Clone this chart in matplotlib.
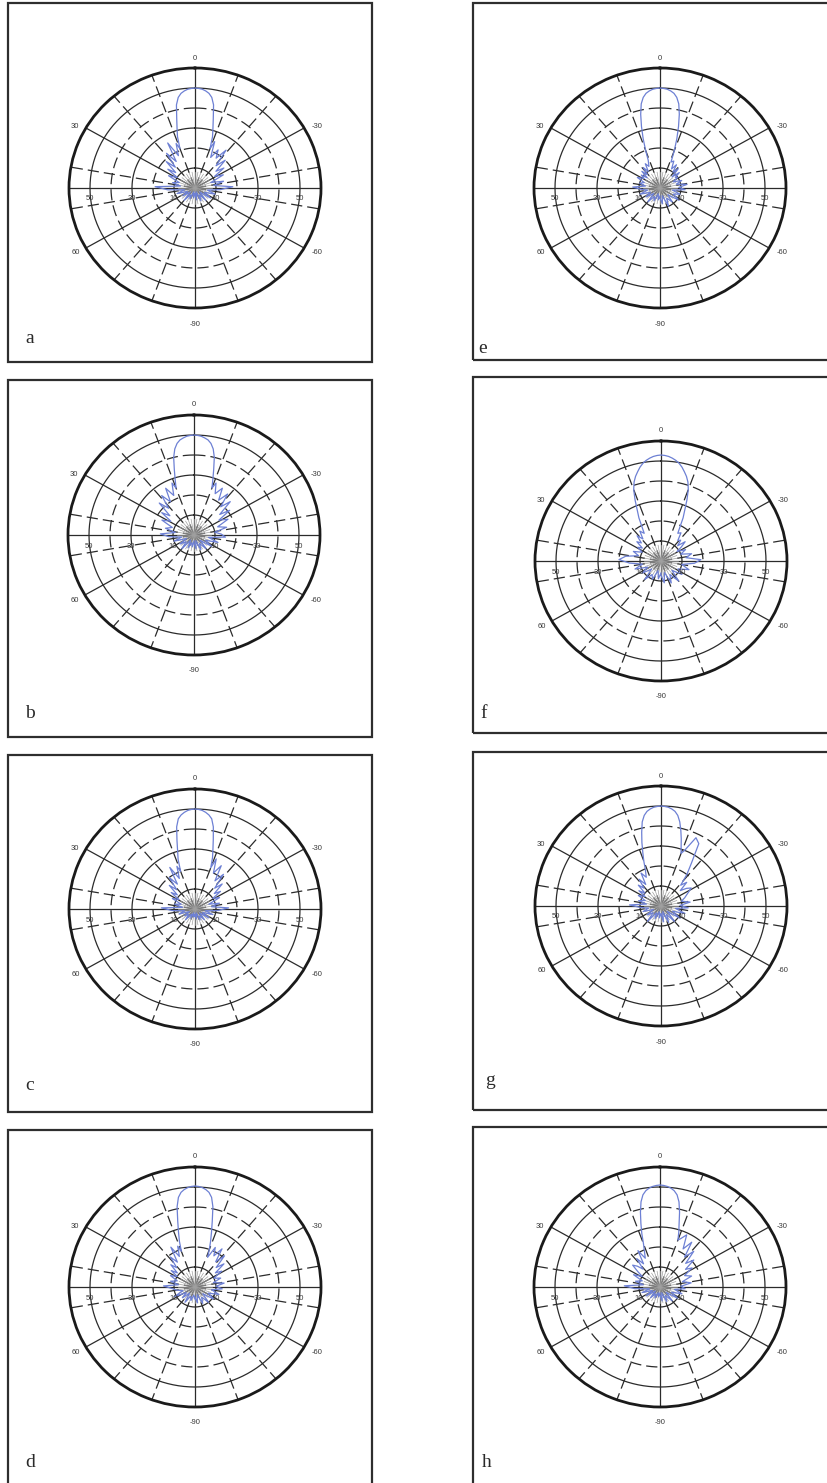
import numpy as np
import matplotlib
matplotlib.use("Agg")
import matplotlib.pyplot as plt
from matplotlib.patches import Rectangle

W, H = 828, 1483

# Angle grid (pattern angle in degrees, -90..90); drawn on the full circle (screen angle = 2 x angle)
ANG = [-90, -86, -82, -78, -74, -70, -66, -62, -58, -54, -50,
       -47, -44, -41, -38, -35, -32, -29,
       -27, -25, -23, -21, -19, -17, -15, -13, -11,
       -10, -9, -8, -7, -6, -5, -4, -3, -2, -1,
       0,
       1, 2, 3, 4, 5, 6, 7, 8, 9, 10,
       11, 13, 15, 17, 19, 21, 23, 25, 27,
       29, 32, 35, 38, 41, 44, 47,
       50, 54, 58, 62, 66, 70, 74, 78, 82, 86, 90]

R_A = [3, 6, 2, 7, 4, 8, 3, 9, 5, 10, 6,
       12, 18, 9, 14, 8, 15, 11,
       17, 13, 20, 15, 24, 18, 22, 17, 25,
       21, 27, 31, 36, 42.5, 46, 47.8, 48.8, 49.5, 49.8,
       50,
       49.8, 49.5, 48.8, 47.8, 46, 42.5, 36, 31, 27, 21,
       24, 18, 26, 16, 22, 14, 19, 12, 16,
       10, 14, 8, 11, 7, 19, 13,
       5, 9, 4, 7, 3, 8, 4, 6, 2, 5, 3]

R_B = [4, 7, 3, 8, 5, 9, 4, 10, 6, 12, 7,
       15, 13, 10, 16, 12, 18, 14,
       21, 16, 24, 19, 26, 21, 27, 23, 28,
       25, 29, 34, 40, 44, 46.5, 48, 48.8, 49.5, 49.8,
       50,
       49.8, 49.5, 48.8, 48, 46.5, 44, 40, 34, 29, 25,
       28, 22, 27, 20, 25, 18, 23, 15, 19,
       13, 17, 11, 14, 9, 16, 12,
       6, 10, 4, 8, 5, 9, 3, 7, 4, 6, 3]

R_C = [3, 5, 2, 6, 4, 7, 3, 8, 4, 9, 5,
       11, 16, 8, 12, 7, 13, 10,
       15, 12, 18, 14, 22, 17, 25, 20, 27,
       22, 27, 31, 36, 42, 45.8, 47.5, 48.6, 49.4, 49.8,
       50,
       49.8, 49.4, 48.6, 47.5, 45.8, 42, 35.5, 30, 26, 20,
       23, 17, 24, 15, 20, 13, 17, 11, 14,
       9, 12, 7, 10, 6, 16, 11,
       5, 8, 3, 6, 4, 7, 3, 5, 2, 4, 3]

R_D = [5, 8, 4, 9, 6, 10, 5, 11, 7, 12, 8,
       13, 10, 14, 9, 13, 10, 15,
       12, 18, 14, 21, 16, 23, 18, 22, 16,
       20, 24, 28.5, 34, 41, 45.5, 47.8, 49, 49.8, 50.3,
       50.5,
       50.3, 49.8, 49, 47.8, 45.5, 41, 34, 28.5, 24, 19,
       22, 17, 23, 15, 19, 13, 16, 11, 14,
       10, 13, 9, 12, 8, 15, 11,
       9, 6, 11, 5, 8, 4, 9, 5, 7, 4, 6]

R_E = [5, 8, 4, 10, 6, 9, 5, 11, 7, 10, 6,
       12, 9, 13, 8, 11, 7, 10,
       9, 12, 8, 13, 10, 14, 11, 15, 14,
       20, 26, 32, 38, 43, 46, 47.8, 48.8, 49.5, 49.8,
       50,
       49.8, 49.5, 48.8, 47.8, 46, 43, 38, 32, 26, 20,
       15, 12, 14, 10, 13, 9, 12, 8, 11,
       9, 12, 8, 10, 7, 13, 9,
       6, 10, 5, 8, 4, 9, 5, 7, 3, 6, 4]

R_F = [7, 11, 6, 12, 8, 13, 7, 12, 9, 14, 10,
       16, 19, 12, 15, 10, 13, 9,
       12, 15, 11, 14, 13, 17, 16, 24, 33,
       38, 41.5, 44, 46, 48, 49.6, 50.8, 51.7, 52.4, 52.8,
       53,
       52.8, 52.4, 51.7, 50.8, 49.6, 48, 46, 44, 41.5, 38,
       33, 24, 16, 18, 14, 17, 13, 15, 11,
       13, 10, 14, 11, 17, 20, 15,
       9, 13, 7, 11, 6, 12, 8, 10, 5, 9, 6]

R_G = [4, 8, 3, 9, 5, 10, 4, 11, 6, 12, 7,
       13, 9, 14, 10, 12, 14, 17,
       15, 12, 17, 14, 20, 26, 36, 38, 30,
       28, 31, 35, 39, 43, 46, 47.8, 48.8, 49.5, 49.8,
       50,
       49.8, 49.5, 48.8, 47.8, 46, 43, 38, 33, 28, 24,
       20, 16, 19, 13, 17, 12, 15, 10, 13,
       9, 12, 8, 11, 7, 15, 10,
       6, 9, 4, 8, 5, 10, 4, 7, 3, 6, 4]

R_H = [4, 7, 3, 8, 5, 9, 4, 10, 6, 11, 7,
       12, 10, 15, 11, 16, 13, 18,
       15, 21, 17, 24, 19, 27, 22, 29, 26,
       25, 29, 33, 38.5, 43.5, 46.8, 48.6, 49.7, 50.4, 50.8,
       51,
       50.8, 50.4, 49.7, 48.6, 46.8, 43.5, 38.5, 33, 28, 23,
       20, 16, 21, 14, 18, 12, 15, 17, 13,
       10, 14, 9, 12, 8, 17, 12,
       5, 9, 4, 8, 3, 7, 4, 6, 3, 5, 3]

LETTERS = ["a", "b", "c", "d", "e", "f", "g", "h"]
SERIES = [R_A, R_B, R_C, R_D, R_E, R_F, R_G, R_H]

# tick labels
ANGLE_LABELS = ["0", "30", "-30", "60", "-60", "-90"]
RADIAL_LABELS = ["10", "30", "50"]

# layout (pixels, top-left origin)
BOXES = [(8, 3, 372, 362), (8, 380, 372, 737), (8, 755, 372, 1112), (8, 1130, 372, 1492),
         (473, 3, 840, 360), (473, 377, 840, 733), (473, 752, 840, 1110), (473, 1127, 840, 1492)]
CENTERS = [(195, 188), (194, 535), (195, 909), (195, 1287),
           (660, 188), (661, 561), (661, 906), (660, 1287)]
LETTER_POS = [(30, 343), (30, 718), (30, 1090), (30, 1467),
              (483, 353), (484, 718), (490, 1085), (487, 1467)]
RX, RY = 126, 120

GRID = "#2b2b2b"
BLUE = "#6d80d4"
DASH = (0, (9, 4))

fig = plt.figure(figsize=(W / 100, H / 100), dpi=100)
fig.patch.set_facecolor("white")

full = np.linspace(0, 2 * np.pi, 361)

for i in range(8):
    x0, y0, x1, y1 = BOXES[i]
    fig.add_artist(Rectangle((x0 / W, 1 - y1 / H), (x1 - x0) / W, (y1 - y0) / H,
                             transform=fig.transFigure, fill=False,
                             edgecolor="#2e2e2e", linewidth=1.6))
    cx, cy = CENTERS[i]
    ax = fig.add_axes([(cx - RX) / W, 1 - (cy + RY) / H, 2 * RX / W, 2 * RY / H],
                      projection="polar")
    ax.set_aspect("auto")
    ax.set_theta_zero_location("N")
    ax.set_theta_direction(1)
    ax.set_ylim(0, 60)
    ax.grid(False)
    ax.set_xticks([])
    ax.set_yticks([])
    ax.set_facecolor("white")
    ax.spines["polar"].set_linewidth(2.0)
    ax.spines["polar"].set_color("#1a1a1a")

    # rings
    for r in [10, 30, 50]:
        ax.plot(full, np.full_like(full, r), color=GRID, lw=0.9, zorder=1)
    for r in [20, 40]:
        ax.plot(full, np.full_like(full, r), color=GRID, lw=0.9, ls=DASH, zorder=1)
    # spokes
    for a in [0, 60, 90, 120, 180, 240, 270, 300]:
        ax.plot([np.deg2rad(a)] * 2, [0, 60], color=GRID, lw=0.9, zorder=1)
    for a in [20, 40, 80, 100, 140, 160, 200, 220, 260, 280, 320, 340]:
        ax.plot([np.deg2rad(a)] * 2, [0, 60], color=GRID, lw=0.9, ls=DASH, zorder=1)
    for a in range(0, 360, 10):
        ax.plot([np.deg2rad(a)] * 2, [0, 8], color="#a0a0a0", lw=0.5, zorder=1)

    # pattern
    th = np.deg2rad(2 * np.array(ANG, dtype=float))
    ax.plot(th, SERIES[i], color=BLUE, lw=0.9, zorder=3)

    # angle labels
    lab_kw = dict(textcoords="offset pixels", fontsize=5.5, color="#3a3a3a",
                  family="Liberation Sans", ha="center", va="center",
                  annotation_clip=False)
    ax.annotate(ANGLE_LABELS[0], xy=(0, 60), xytext=(0, 10), **lab_kw)
    ax.annotate(ANGLE_LABELS[1], xy=(np.deg2rad(60), 60), xytext=(-11, 1), **lab_kw)
    ax.annotate(ANGLE_LABELS[2], xy=(np.deg2rad(-60), 60), xytext=(13, 1), **lab_kw)
    ax.annotate(ANGLE_LABELS[3], xy=(np.deg2rad(120), 60), xytext=(-10, -5), **lab_kw)
    ax.annotate(ANGLE_LABELS[4], xy=(np.deg2rad(-120), 60), xytext=(13, -5), **lab_kw)
    ax.annotate(ANGLE_LABELS[5], xy=(np.pi, 60), xytext=(0, -16), **lab_kw)
    for lbl in RADIAL_LABELS:
        rv = float(lbl)
        ax.annotate(lbl, xy=(np.deg2rad(90), rv), xytext=(0, -11), **lab_kw)
        ax.annotate(lbl, xy=(np.deg2rad(-90), rv), xytext=(0, -11), **lab_kw)

    lx, ly = LETTER_POS[i]
    fig.text(lx / W, 1 - ly / H, LETTERS[i], fontsize=14, family="Liberation Serif",
             color="#2a2a2a", ha="center", va="baseline")

fig.savefig("out.png", dpi=100, facecolor="white")
